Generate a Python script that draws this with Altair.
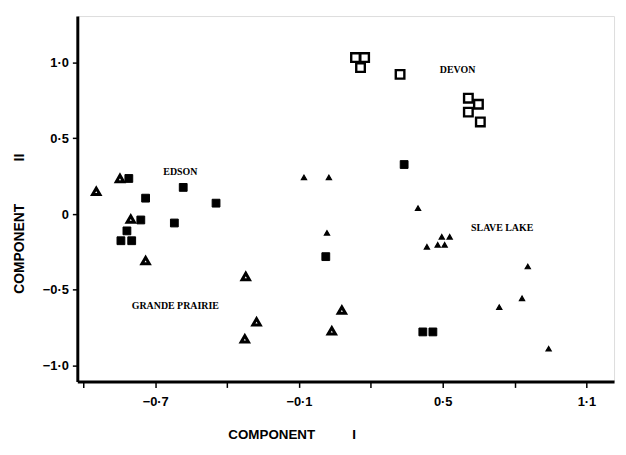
import altair as alt
import pandas as pd

# ---- data ----
devon_x = [0.136, 0.174, 0.157, 0.322, 0.607, 0.649, 0.607, 0.657]
devon_y = [1.033, 1.033, 0.967, 0.922, 0.765, 0.725, 0.673, 0.608]

edson_x = [-0.810, -0.583, -0.740, -0.446, -0.760, -0.818, -0.843, -0.798, -0.620, 0.339, 0.012, 0.417, 0.459]
edson_y = [0.235, 0.176, 0.105, 0.072, -0.039, -0.111, -0.176, -0.176, -0.059, 0.327, -0.281, -0.778, -0.778]

gp_x = [-0.946, -0.847, -0.802, -0.740, -0.322, -0.277, -0.326, 0.079, 0.037]
gp_y = [0.150, 0.235, -0.033, -0.307, -0.412, -0.712, -0.824, -0.634, -0.771]

sl_x = [-0.079, 0.025, 0.397, 0.017, 0.496, 0.529, 0.434, 0.479, 0.508, 0.855, 0.831, 0.736, 0.942]
sl_y = [0.242, 0.242, 0.039, -0.124, -0.150, -0.150, -0.216, -0.203, -0.203, -0.346, -0.556, -0.614, -0.889]

groups = ["DEVON", "EDSON", "GRANDE PRAIRIE", "SLAVE LAKE"]

label_text = ["EDSON", "DEVON", "SLAVE LAKE", "GRANDE PRAIRIE"]
label_x = [-0.595, 0.562, 0.748, -0.616]
label_y = [0.275, 0.948, -0.092, -0.608]

x_tick_values = [-1.0, -0.7, -0.4, -0.1, 0.2, 0.5, 0.8, 1.1]
x_tick_labels = ["", "\u22120\u00b77", "", "\u22120\u00b71", "", "0\u00b75", "", "1\u00b71"]
y_tick_values = [-1.0, -0.5, 0.0, 0.5, 1.0]
y_tick_labels = ["\u22121\u00b70", "\u22120\u00b75", "0", "0\u00b75", "1\u00b70"]

x_domain = [-1.025, 1.215]
y_domain = [-1.105, 1.307]

# ---- build tables ----
frames = {}
for g, xs_, ys_ in zip(groups, [devon_x, edson_x, gp_x, sl_x], [devon_y, edson_y, gp_y, sl_y]):
    frames[g] = pd.DataFrame({"c1": xs_, "c2": ys_})
labs = pd.DataFrame({"text": label_text, "c1": label_x, "c2": label_y})


def label_expr(vals, labels):
    expr = "''"
    for v, l in reversed(list(zip(vals, labels))):
        expr = f"abs(datum.value - ({v})) < 1e-6 ? '{l}' : {expr}"
    return expr


NB = "\u00a0"
FONT = "Liberation Sans"

x_axis = alt.Axis(
    values=x_tick_values, labelExpr=label_expr(x_tick_values, x_tick_labels),
    grid=False, domainWidth=3, domainColor="black", tickColor="black", tickWidth=1.5,
    tickSize=6, labelPadding=8, labelFont=FONT, labelFontWeight="bold", labelFontSize=13,
    labelColor="black",
    title="COMPONENT" + NB * 10 + "I", titleFont=FONT, titleFontWeight="bold", titleFontSize=13.5,
    titleColor="black", titleAnchor="start", titleAlign="left", titleX=152, titleY=54,
    titleBaseline="middle",
)
y_axis = alt.Axis(
    values=y_tick_values, labelExpr=label_expr(y_tick_values, y_tick_labels),
    grid=False, domainWidth=3, domainColor="black", tickColor="black", tickWidth=1.5,
    tickSize=5, labelPadding=4, labelFont=FONT, labelFontWeight="bold", labelFontSize=13,
    labelColor="black",
    title="COMPONENT" + NB * 11 + "II", titleFont=FONT, titleFontWeight="bold", titleFontSize=14,
    titleColor="black", titleAngle=270, titleAlign="left", titleBaseline="middle",
    titleX=-58, titleY=280,
)

xs = alt.Scale(domain=x_domain, nice=False, zero=False)
ys = alt.Scale(domain=y_domain, nice=False, zero=False)

styles = {
    "DEVON": dict(shape="square", filled=False, size=75, strokeWidth=2.4),
    "EDSON": dict(shape="square", filled=True, size=62, strokeWidth=1),
    "GRANDE PRAIRIE": dict(shape="triangle-up", filled=False, size=55, strokeWidth=3),
    "SLAVE LAKE": dict(shape="triangle-up", filled=True, size=28, strokeWidth=1.2),
}

layers = []
for i, g in enumerate(groups):
    st = styles[g]
    m = alt.Chart(frames[g]).mark_point(
        shape=st["shape"], filled=st["filled"], size=st["size"], strokeWidth=st["strokeWidth"],
        color="black", opacity=1, fill="white" if not st["filled"] else "black",
        stroke="black", fillOpacity=1,
    )
    if i == 0:
        m = m.encode(x=alt.X("c1:Q", scale=xs, axis=x_axis), y=alt.Y("c2:Q", scale=ys, axis=y_axis))
    else:
        m = m.encode(x=alt.X("c1:Q", scale=xs), y=alt.Y("c2:Q", scale=ys))
    layers.append(m)

texts = alt.Chart(labs).mark_text(
    font="Liberation Serif", fontWeight="bold", fontSize=10, color="black"
).encode(
    x=alt.X("c1:Q", scale=xs),
    y=alt.Y("c2:Q", scale=ys),
    text="text:N",
)

chart = alt.layer(*layers, texts).properties(
    width=542, height=369,
    autosize=alt.AutoSizeParams(type="none"),
    padding={"left": 70, "top": 6, "right": 4, "bottom": 60},
).configure_view(stroke=None).configure(background="white")

chart.save("out.html", embed_options={"renderer": "svg", "actions": False})
